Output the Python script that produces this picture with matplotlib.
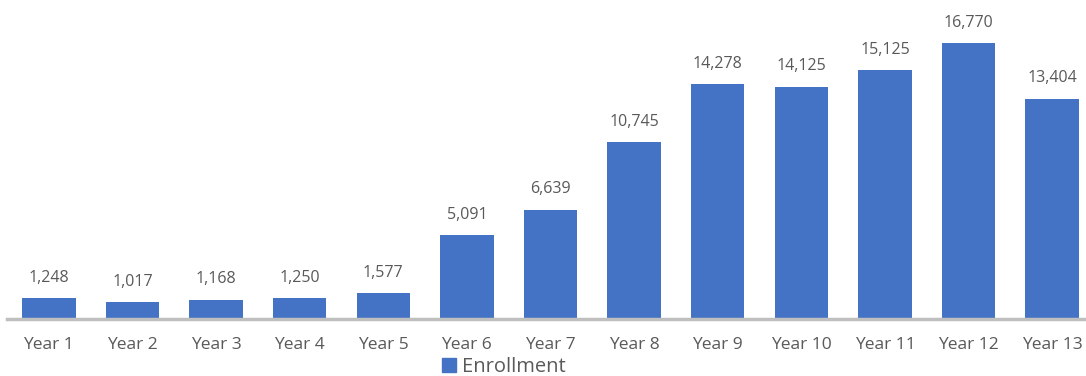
import matplotlib.pyplot as plt
from matplotlib.patches import Patch

# enrollment per program year
years = ["Year 1", "Year 2", "Year 3", "Year 4", "Year 5", "Year 6", "Year 7",
         "Year 8", "Year 9", "Year 10", "Year 11", "Year 12", "Year 13"]
enrollment = [1248, 1017, 1168, 1250, 1577, 5091, 6639,
              10745, 14278, 14125, 15125, 16770, 13404]

BAR = "#4472C4"
TXT = "#595959"

plt.rcParams["font.family"] = ["Open Sans", "DejaVu Sans"]

fig = plt.figure(figsize=(10.86, 3.76), dpi=100)
ax = fig.add_axes([7 / 1086, 57 / 376, 1087 / 1086, 296 / 376])

x = range(len(years))
bars = ax.bar(x, enrollment, width=0.64, color=BAR)
for xi, v in zip(x, enrollment):
    ax.annotate(f"{v:,}", (xi, v), xytext=(0, 9), textcoords="offset points",
                ha="center", va="bottom", fontsize=11.5, color=TXT)

ax.set_xlim(-0.5, 12.5)
ax.set_ylim(0, 18000)
ax.set_xticks(list(x))
ax.set_xticklabels(years, fontsize=12.5, color=TXT)
ax.tick_params(axis="x", length=0, pad=13)
ax.set_yticks([])
for s in ["top", "right", "left"]:
    ax.spines[s].set_visible(False)
ax.spines["bottom"].set_color("#BFBFBF")
ax.spines["bottom"].set_linewidth(2.5)

fig.legend(handles=[Patch(color=BAR, label="Enrollment")], loc="center",
           bbox_to_anchor=(504 / 1086, 9 / 376), frameon=False, fontsize=14.5,
           handlelength=0.7, handleheight=0.7, handletextpad=0.3,
           labelcolor=TXT, borderpad=0)

fig.savefig("out.png", dpi=100)
